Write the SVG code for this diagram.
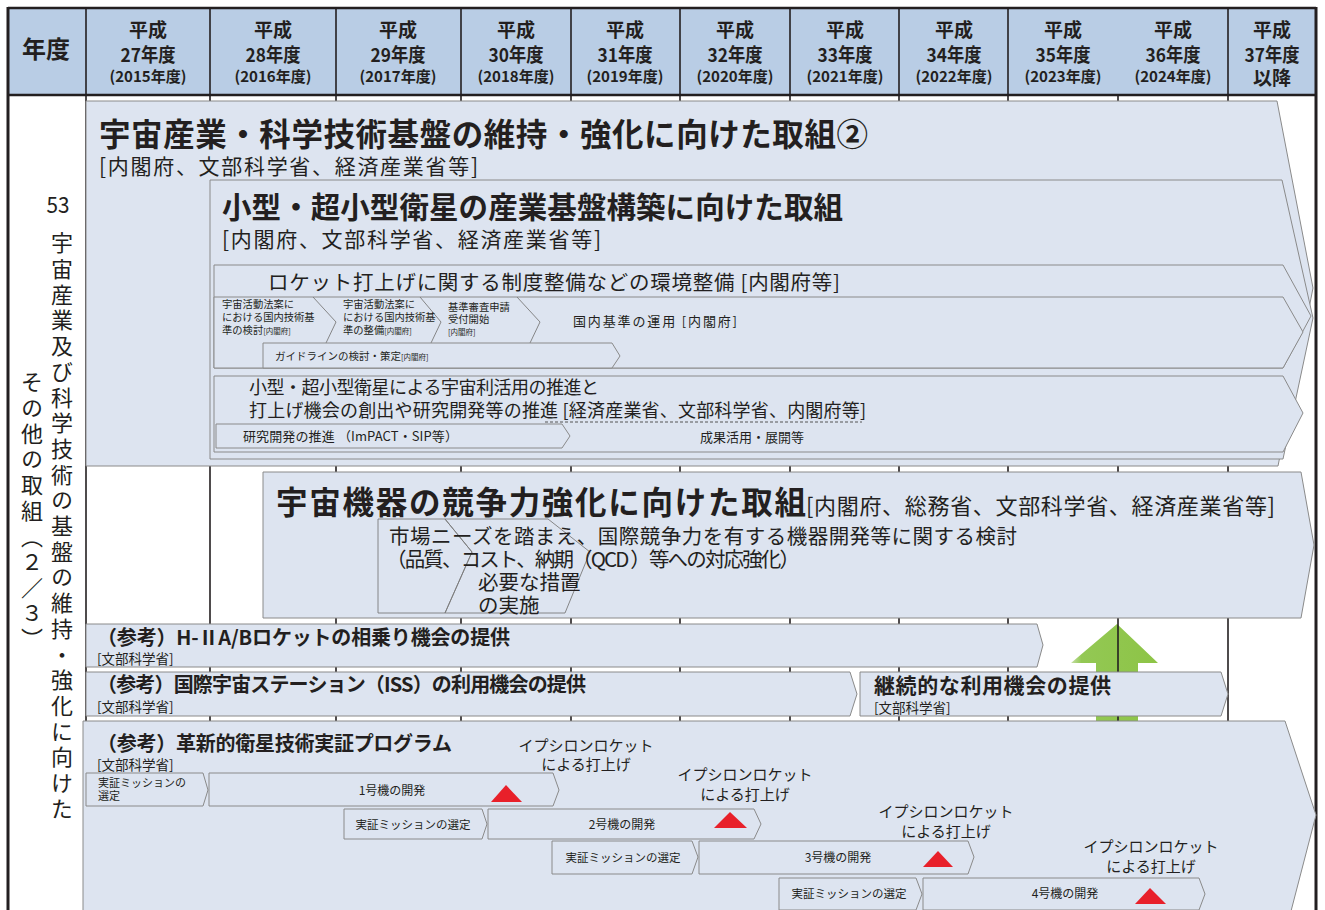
<svg xmlns="http://www.w3.org/2000/svg" width="1325" height="910" viewBox="0 0 1325 910">
<defs>
<style>
.t{font-family:"Noto Sans CJK JP","Noto Sans",sans-serif;fill:#231f20}
.b{font-weight:700}
.box{fill:#dde4f0;stroke:#8a8a8a;stroke-width:1}
.ln{fill:none;stroke:#7a7a7a;stroke-width:0.9}
.grid{stroke:#231f20;stroke-width:1.6}
.tri{fill:#e8202a}
.hd{font-family:"Noto Sans CJK JP","Noto Sans",sans-serif;fill:#231f20;font-weight:700;text-anchor:middle}
.m{text-anchor:middle}
</style>
<linearGradient id="gr" x1="0" y1="0" x2="1" y2="0">
<stop offset="0" stop-color="#c6dfa6"/>
<stop offset="0.12" stop-color="#93c854"/>
<stop offset="1" stop-color="#8dc446"/>
</linearGradient>
</defs>
<rect x="0" y="0" width="1325" height="910" fill="#ffffff"/>

<g id="table">
<rect x="8" y="8" width="1308" height="87" fill="#b9cde5"/>
<g class="grid">
<line x1="86" y1="8" x2="86" y2="910"/>
<line x1="210" y1="8" x2="210" y2="910"/>
<line x1="336" y1="8" x2="336" y2="910"/>
<line x1="461" y1="8" x2="461" y2="910"/>
<line x1="571" y1="8" x2="571" y2="910"/>
<line x1="680" y1="8" x2="680" y2="910"/>
<line x1="790" y1="8" x2="790" y2="910"/>
<line x1="899" y1="8" x2="899" y2="910"/>
<line x1="1008" y1="8" x2="1008" y2="910"/>
<line x1="1228" y1="8" x2="1228" y2="910"/>
</g>
<line x1="8" y1="8" x2="1316" y2="8" stroke="#231f20" stroke-width="2.5"/>
<line x1="8" y1="95" x2="1316" y2="95" stroke="#231f20" stroke-width="2.5"/>
<line x1="8" y1="7" x2="8" y2="910" stroke="#231f20" stroke-width="3"/>
<line x1="1316" y1="7" x2="1316" y2="910" stroke="#231f20" stroke-width="3"/>
</g>

<g id="header">
<text class="hd" x="46" y="58" font-size="24">年度</text>
<text class="hd" x="148" y="37" font-size="19">平成</text><text class="hd" x="148" y="62" font-size="19" textLength="55" lengthAdjust="spacingAndGlyphs">27年度</text><text class="hd" x="148" y="82" font-size="15" textLength="77" lengthAdjust="spacingAndGlyphs">(2015年度)</text>
<text class="hd" x="273" y="37" font-size="19">平成</text><text class="hd" x="273" y="62" font-size="19" textLength="55" lengthAdjust="spacingAndGlyphs">28年度</text><text class="hd" x="273" y="82" font-size="15" textLength="77" lengthAdjust="spacingAndGlyphs">(2016年度)</text>
<text class="hd" x="398" y="37" font-size="19">平成</text><text class="hd" x="398" y="62" font-size="19" textLength="55" lengthAdjust="spacingAndGlyphs">29年度</text><text class="hd" x="398" y="82" font-size="15" textLength="77" lengthAdjust="spacingAndGlyphs">(2017年度)</text>
<text class="hd" x="516" y="37" font-size="19">平成</text><text class="hd" x="516" y="62" font-size="19" textLength="55" lengthAdjust="spacingAndGlyphs">30年度</text><text class="hd" x="516" y="82" font-size="15" textLength="77" lengthAdjust="spacingAndGlyphs">(2018年度)</text>
<text class="hd" x="625" y="37" font-size="19">平成</text><text class="hd" x="625" y="62" font-size="19" textLength="55" lengthAdjust="spacingAndGlyphs">31年度</text><text class="hd" x="625" y="82" font-size="15" textLength="77" lengthAdjust="spacingAndGlyphs">(2019年度)</text>
<text class="hd" x="735" y="37" font-size="19">平成</text><text class="hd" x="735" y="62" font-size="19" textLength="55" lengthAdjust="spacingAndGlyphs">32年度</text><text class="hd" x="735" y="82" font-size="15" textLength="77" lengthAdjust="spacingAndGlyphs">(2020年度)</text>
<text class="hd" x="845" y="37" font-size="19">平成</text><text class="hd" x="845" y="62" font-size="19" textLength="55" lengthAdjust="spacingAndGlyphs">33年度</text><text class="hd" x="845" y="82" font-size="15" textLength="77" lengthAdjust="spacingAndGlyphs">(2021年度)</text>
<text class="hd" x="954" y="37" font-size="19">平成</text><text class="hd" x="954" y="62" font-size="19" textLength="55" lengthAdjust="spacingAndGlyphs">34年度</text><text class="hd" x="954" y="82" font-size="15" textLength="77" lengthAdjust="spacingAndGlyphs">(2022年度)</text>
<text class="hd" x="1063" y="37" font-size="19">平成</text><text class="hd" x="1063" y="62" font-size="19" textLength="55" lengthAdjust="spacingAndGlyphs">35年度</text><text class="hd" x="1063" y="82" font-size="15" textLength="77" lengthAdjust="spacingAndGlyphs">(2023年度)</text>
<text class="hd" x="1173" y="37" font-size="19">平成</text><text class="hd" x="1173" y="62" font-size="19" textLength="55" lengthAdjust="spacingAndGlyphs">36年度</text><text class="hd" x="1173" y="82" font-size="15" textLength="77" lengthAdjust="spacingAndGlyphs">(2024年度)</text>
<text class="hd" x="1272" y="37" font-size="19">平成</text><text class="hd" x="1272" y="62" font-size="19" textLength="55" lengthAdjust="spacingAndGlyphs">37年度</text><text class="hd" x="1272" y="85" font-size="19">以降</text>
</g>

<g id="side-label">
<text class="t m" x="58" y="213" font-size="22" font-family="Liberation Sans" textLength="23" lengthAdjust="spacingAndGlyphs">53</text>
<text class="t" x="62" y="232" font-size="22" writing-mode="vertical-rl" letter-spacing="3.7">宇宙産業及び科学技術の基盤の維持・強化に向けた</text>
<text class="t" x="32" y="371" font-size="22" writing-mode="vertical-rl" letter-spacing="3.7">その他の取組（２／３）</text>
</g>

<g id="arrow-up">
<polygon points="1117,624 1158,663 1138,663 1138,722 1096,722 1096,663 1071,663" fill="url(#gr)"/>
<line x1="1118" y1="95" x2="1118" y2="910" stroke="#231f20" stroke-width="1.6"/>
</g>

<g id="n1">
<polygon class="box" points="86,101 1277,101 1313,288 1278,466 86,466"/>
<text class="t b" x="99" y="146" font-size="31.5" textLength="769">宇宙産業・科学技術基盤の維持・強化に向けた取組②</text>
<text class="t" x="99" y="174" font-size="21" textLength="379">[内閣府、文部科学省、経済産業省等]</text>
</g>

<g id="n2">
<polygon class="box" points="210,180 1282,180 1313,318 1283,459 210,459"/>
<text class="t b" x="222" y="218" font-size="29.5" textLength="621">小型・超小型衛星の産業基盤構築に向けた取組</text>
<text class="t" x="222" y="247" font-size="21" textLength="379">[内閣府、文部科学省、経済産業省等]</text>
</g>

<g id="n3">
<polygon class="box" points="214,265 1283,265 1311,316 1283,368 214,368"/>
<text class="t" x="268" y="290" font-size="20.5" textLength="572">ロケット打上げに関する制度整備などの環境整備 [内閣府等]</text>
</g>

<g id="n4">
<polygon class="box" points="214,297 1283,297 1303,332 1283,368 214,368"/>
<polyline class="ln" points="313,297 336,322 326,343"/>
<polyline class="ln" points="420,297 441,322 431,343"/>
<polyline class="ln" points="517,297 540,322 530,343"/>
<text class="t" x="222" y="308" font-size="10.3">宇宙活動法案に</text>
<text class="t" x="222" y="321" font-size="10.3">における国内技術基</text>
<text class="t" x="222" y="334" font-size="10.3">準の検討<tspan font-size="7.5">[内閣府]</tspan></text>
<text class="t" x="343" y="308" font-size="10.3">宇宙活動法案に</text>
<text class="t" x="343" y="321" font-size="10.3">における国内技術基</text>
<text class="t" x="343" y="334" font-size="10.3">準の整備<tspan font-size="7.5">[内閣府]</tspan></text>
<text class="t" x="448" y="311" font-size="10.3">基準審査申請</text>
<text class="t" x="448" y="323" font-size="10.3">受付開始</text>
<text class="t" x="448" y="335" font-size="7.5">[内閣府]</text>
<text class="t" x="573" y="326" font-size="13" textLength="164">国内基準の運用 [内閣府]</text>
</g>

<g id="n4b">
<polygon class="box" points="263,343 612,343 620,356 612,368 263,368"/>
<text class="t" x="275" y="360" font-size="10.5">ガイドラインの検討・策定<tspan font-size="7.5">[内閣府]</tspan></text>
</g>

<g id="n5">
<polygon class="box" points="214,376 1283,376 1303,413 1283,452 214,452"/>
<text class="t" x="249" y="394" font-size="18" textLength="350">小型・超小型衛星による宇宙利活用の推進と</text>
<text class="t" x="249" y="417" font-size="18" textLength="617">打上げ機会の創出や研究開発等の推進 [経済産業省、文部科学省、内閣府等]</text>
<line x1="545" y1="422" x2="862" y2="422" stroke="#555" stroke-width="1" stroke-dasharray="3,2"/>
<polygon class="box" points="216,424 562,424 570,436 562,448 216,448"/>
<text class="t" x="243" y="441" font-size="13" textLength="215">研究開発の推進 （ImPACT・SIP等）</text>
<text class="t" x="700" y="442" font-size="13">成果活用・展開等</text>
</g>

<g id="n6">
<polygon class="box" points="263,472 1301,472 1314,545 1301,618 263,618"/>
<text class="t b" x="276" y="514" font-size="31.5" textLength="530">宇宙機器の競争力強化に向けた取組</text>
<text class="t" x="806" y="514" font-size="22" textLength="469">[内閣府、総務省、文部科学省、経済産業省等]</text>
<polygon class="ln" points="378,519 445,519 472,552 445,613 378,613"/>
<polygon class="ln" points="445,519 548,519 590,552 565,613 445,613 472,552"/>
<text class="t" x="389" y="544" font-size="20.5" textLength="628">市場ニーズを踏まえ、国際競争力を有する機器開発等に関する検討</text>
<text class="t" x="386" y="567" font-size="20.5" textLength="414">（品質、コスト、納期（QCD ）等への対応強化）</text>
<text class="t" x="478" y="590" font-size="20.5">必要な措置</text>
<text class="t" x="478" y="613" font-size="20.5">の実施</text>
</g>

<g id="n7">
<polygon class="box" points="86,624 1037,624 1043,645 1037,667 86,667"/>
<text class="t b" x="97" y="645" font-size="20" textLength="413">（参考）H-ⅡA/Bロケットの相乗り機会の提供</text>
<text class="t" x="97" y="664" font-size="13.5">[文部科学省]</text>
</g>

<g id="n8">
<polygon class="box" points="86,672 850,672 857,694 850,716 86,716"/>
<text class="t b" x="97" y="692" font-size="20" textLength="489">（参考）国際宇宙ステーション（ISS）の利用機会の提供</text>
<text class="t" x="97" y="712" font-size="13.5">[文部科学省]</text>
</g>

<g id="n9">
<polygon class="box" points="860,672 1221,672 1228,694 1221,716 860,716"/>
<text class="t b" x="874" y="693" font-size="21" textLength="237">継続的な利用機会の提供</text>
<text class="t" x="874" y="713" font-size="13.5">[文部科学省]</text>
</g>

<g id="n10">
<polygon class="box" points="83,721 1285,721 1316,815 1290,915 83,915"/>
<text class="t b" x="97" y="751" font-size="20" textLength="355">（参考）革新的衛星技術実証プログラム</text>
<text class="t" x="97" y="770" font-size="13.5">[文部科学省]</text>
</g>

<g id="n11">
<polygon class="box" points="86,773 203,773 208,790 203,806 86,806"/>
<text class="t" x="98" y="787" font-size="11">実証ミッションの</text>
<text class="t" x="98" y="800" font-size="11">選定</text>
</g>
<g id="n12">
<polygon class="box" points="209,773 553,773 559,790 553,806 209,806"/>
<text class="t m" x="392" y="795" font-size="12">1号機の開発</text>
<polygon class="tri" points="506,785 522,802 491,802"/>
</g>
<g id="n13">
<polygon class="box" points="344,809 482,809 487,824 482,839 344,839"/>
<text class="t m" x="413" y="829" font-size="11.5">実証ミッションの選定</text>
</g>
<g id="n14">
<polygon class="box" points="488,809 754,809 761,824 754,839 488,839"/>
<text class="t m" x="622" y="829" font-size="12">2号機の開発</text>
<polygon class="tri" points="730,812 747,828 714,828"/>
</g>
<g id="n15">
<polygon class="box" points="552,841 692,841 698,857 692,874 552,874"/>
<text class="t m" x="623" y="862" font-size="11.5">実証ミッションの選定</text>
</g>
<g id="n16">
<polygon class="box" points="699,841 968,841 974,857 968,874 699,874"/>
<text class="t m" x="838" y="862" font-size="12">3号機の開発</text>
<polygon class="tri" points="938,851 953,867 923,867"/>
</g>
<g id="n17">
<polygon class="box" points="779,878 916,878 922,894 916,910 779,910"/>
<text class="t m" x="849" y="898" font-size="11.5">実証ミッションの選定</text>
</g>
<g id="n18">
<polygon class="box" points="923,878 1199,878 1205,894 1199,910 923,910"/>
<text class="t m" x="1065" y="898" font-size="12">4号機の開発</text>
<polygon class="tri" points="1150,888 1166,904 1135,904"/>
</g>

<g id="launch-labels">
<text class="t m" x="586" y="751" font-size="15">イプシロンロケット</text>
<text class="t m" x="586" y="770" font-size="15">による打上げ</text>
<text class="t m" x="745" y="780" font-size="15">イプシロンロケット</text>
<text class="t m" x="745" y="800" font-size="15">による打上げ</text>
<text class="t m" x="946" y="817" font-size="15">イプシロンロケット</text>
<text class="t m" x="946" y="837" font-size="15">による打上げ</text>
<text class="t m" x="1151" y="852" font-size="15">イプシロンロケット</text>
<text class="t m" x="1151" y="872" font-size="15">による打上げ</text>
</g>
</svg>
